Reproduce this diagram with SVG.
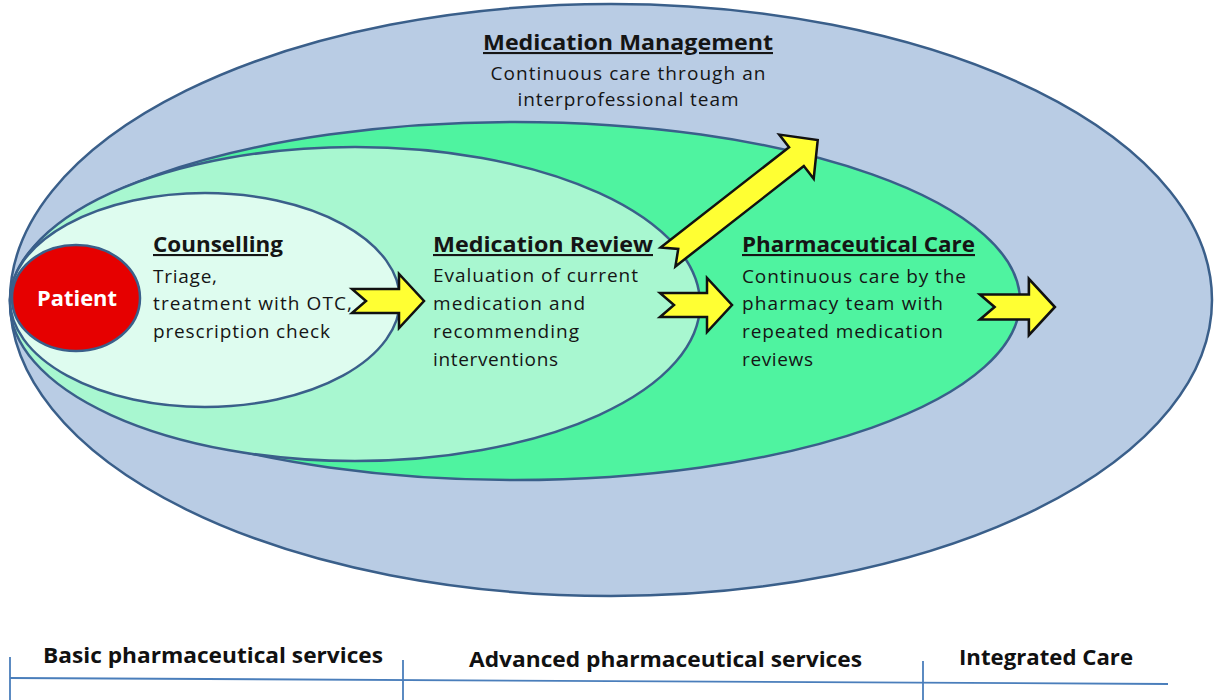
<svg xmlns="http://www.w3.org/2000/svg" width="1214" height="700" viewBox="0 0 1214 700">
<style>
.ell{stroke:#3a5f8a;stroke-width:2.5}
.t{font-family:"Open Sans","Noto Sans","Liberation Sans",sans-serif;font-size:19px;fill:#151515}
.h{font-family:"Open Sans","Noto Sans","Liberation Sans",sans-serif;font-size:21px;font-weight:bold;fill:#151515;text-decoration:underline}
.b{font-family:"Open Sans","Noto Sans","Liberation Sans",sans-serif;font-size:21px;font-weight:bold;fill:#111}
.arr{fill:#ffff33;stroke:#111;stroke-width:2.5;stroke-linejoin:miter}
.ln{stroke:#4a7ebb;stroke-width:1.8;fill:none}
</style>
<defs>
<path id="harrow" d="M0,-12 L47,-12 L47,-27 L72,0 L47,27 L47,12 L0,12 L14,0 Z"/>
</defs>
<rect width="1214" height="700" fill="#ffffff"/>
<g id="medication-management">
<ellipse class="ell" cx="611" cy="300" rx="601" ry="296" fill="#b9cce4"/>
<text class="h" x="628" y="50" text-anchor="middle" textLength="290" lengthAdjust="spacingAndGlyphs">Medication Management</text>
<text class="t" x="628" y="80" text-anchor="middle" textLength="275" lengthAdjust="spacing">Continuous care through an</text>
<text class="t" x="628" y="106" text-anchor="middle" textLength="221" lengthAdjust="spacing">interprofessional team</text>
</g>
<g id="pharmaceutical-care">
<ellipse class="ell" cx="515" cy="301" rx="505" ry="179" fill="#4ff3a0"/>
<text class="h" x="742" y="252" textLength="233" lengthAdjust="spacingAndGlyphs">Pharmaceutical Care</text>
<text class="t" x="742" y="283" textLength="224" lengthAdjust="spacing">Continuous care by the</text>
<text class="t" x="742" y="310" textLength="201" lengthAdjust="spacing">pharmacy team with</text>
<text class="t" x="742" y="338" textLength="201" lengthAdjust="spacing">repeated medication</text>
<text class="t" x="742" y="366" textLength="71" lengthAdjust="spacing">reviews</text>
</g>
<g id="medication-review">
<ellipse class="ell" cx="355" cy="304" rx="345" ry="157" fill="#a8f7d0"/>
<text class="h" x="433" y="252" textLength="220" lengthAdjust="spacingAndGlyphs">Medication Review</text>
<text class="t" x="433" y="282" textLength="205" lengthAdjust="spacing">Evaluation of current</text>
<text class="t" x="433" y="310" textLength="152" lengthAdjust="spacing">medication and</text>
<text class="t" x="433" y="338" textLength="146" lengthAdjust="spacing">recommending</text>
<text class="t" x="433" y="366" textLength="125" lengthAdjust="spacing">interventions</text>
</g>
<g id="counselling">
<ellipse class="ell" cx="205" cy="300" rx="195" ry="107" fill="#defcef"/>
<text class="h" x="153" y="252" textLength="130" lengthAdjust="spacingAndGlyphs">Counselling</text>
<text class="t" x="153" y="283" textLength="64" lengthAdjust="spacing">Triage,</text>
<text class="t" x="153" y="310" textLength="199" lengthAdjust="spacing">treatment with OTC,</text>
<text class="t" x="153" y="338" textLength="177" lengthAdjust="spacing">prescription check</text>
</g>
<g id="patient">
<ellipse cx="76" cy="298" rx="64" ry="53" fill="#e60000" stroke="#3a5f8a" stroke-width="2.5"/>
<text x="77" y="306" text-anchor="middle" font-family="Open Sans, Noto Sans, Liberation Sans, sans-serif" font-size="22" font-weight="bold" fill="#ffffff" textLength="80" lengthAdjust="spacingAndGlyphs">Patient</text>
</g>
<g id="connectors">
<use href="#harrow" class="arr" transform="translate(352,301)"/>
<use href="#harrow" class="arr" transform="translate(660,305)"/>
<use href="#harrow" class="arr" transform="translate(980,307) scale(1.04)"/>
<path class="arr" transform="translate(668,257) rotate(-38)" d="M0,-12 L163,-12 L163,-28 L190,0 L163,28 L163,12 L0,12 L13,0 Z"/>
</g>
<g id="service-scale">
<line class="ln" x1="10" y1="678" x2="1168" y2="684"/>
<line class="ln" x1="10" y1="657" x2="10" y2="700"/>
<line class="ln" x1="403" y1="660" x2="403" y2="700"/>
<line class="ln" x1="923" y1="661" x2="923" y2="700"/>
<text class="b" x="43" y="663" textLength="340" lengthAdjust="spacingAndGlyphs">Basic pharmaceutical services</text>
<text class="b" x="469" y="667" textLength="393" lengthAdjust="spacingAndGlyphs">Advanced pharmaceutical services</text>
<text class="b" x="959" y="665" textLength="174" lengthAdjust="spacingAndGlyphs">Integrated Care</text>
</g>
</svg>
